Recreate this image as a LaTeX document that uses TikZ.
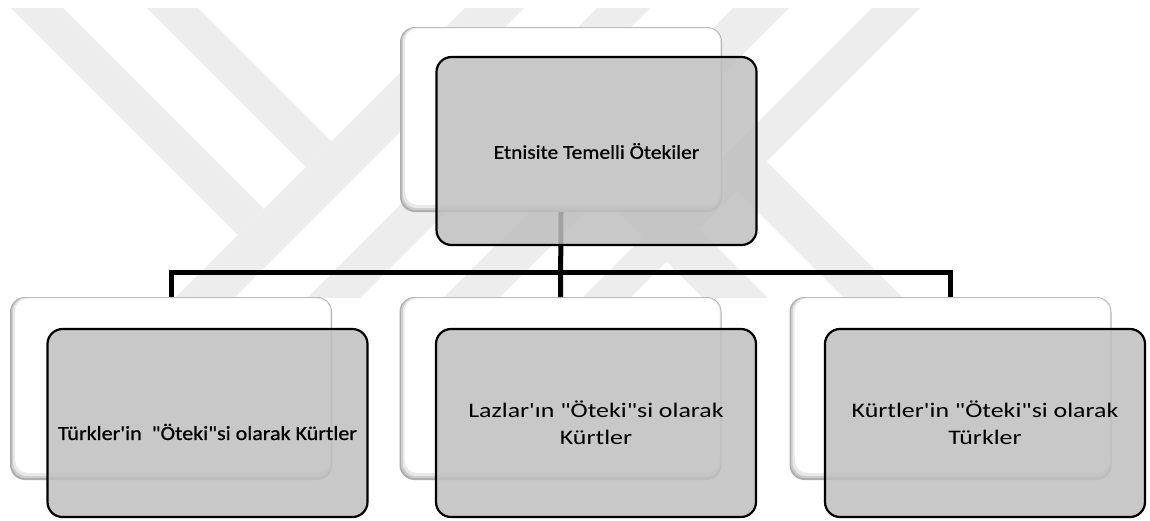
\documentclass[tikz,border=0pt]{standalone}
\usepackage{fontspec}
\newfontfamily\fA{Carlito}[Ligatures=TeXOff,FakeStretch=1.1,FakeBold=0.8]
\newfontfamily\fB{Carlito}[Ligatures=TeXOff,FakeStretch=1.25]
\begin{document}
\begin{tikzpicture}[x=1pt,y=-1pt,
  wm/.style={fill=black!7},
  backbox/.style={rectangle, rounded corners=15pt, minimum width=322pt, minimum height=183pt,
    inner sep=0pt, outer sep=0pt, fill=black!32,
    path picture={
      \fill[black!20, rounded corners=14pt]
        ([shift={(1.5pt,2pt)}]path picture bounding box.south west) rectangle
        ([shift={(-0.7pt,-0.6pt)}]path picture bounding box.north east);
      \fill[black!9, rounded corners=13.5pt]
        ([shift={(3pt,4pt)}]path picture bounding box.south west) rectangle
        ([shift={(-1.2pt,-0.9pt)}]path picture bounding box.north east);
      \fill[white, rounded corners=13pt]
        ([shift={(5pt,7pt)}]path picture bounding box.south west) rectangle
        ([shift={(-1.8pt,-1.4pt)}]path picture bounding box.north east);
    }},
  frontbox/.style={rectangle, rounded corners=15pt, draw=black, line width=2.2pt,
    fill=black!25, fill opacity=0.85, draw opacity=1, text opacity=1,
    minimum width=320pt, minimum height=188pt, inner sep=0pt, outer sep=0pt,
    align=center, text=black},
  txtA/.style={font=\fA\fontsize{20}{24}\selectfont},
  txtB/.style={font=\fB\fontsize{20.7}{27}\selectfont},
  link/.style={draw=black, line width=5pt}
]
\useasboundingbox (0,0) rectangle (1150,520);
\fill[white] (0,0) rectangle (1150,520);

% watermark
\begin{scope}
\clip (0,8) rectangle (1150,297);
\fill[wm] (11,8) -- (63,8) -- (264,209) -- (238,235) -- cycle;
\fill[wm] (147,8) -- (198,8) -- (331.5,141.5) -- (306,167) -- cycle;
\fill[wm] (465,8) -- (524,8) -- (232,300) -- (173,300) -- cycle;
\fill[wm] (597,8) -- (650,8) -- (358,300) -- (305,300) -- cycle;
\fill[wm] (733,8) -- (789,8) -- (497,300) -- (441,300) -- cycle;
\fill[wm] (872,8) -- (920,8) -- (628,300) -- (580,300) -- cycle;
\fill[wm] (573,168) -- (605.5,135.5) -- (770,300) -- (705,300) -- cycle;
\fill[wm] (713,167) -- (742.5,137.5) -- (905,300) -- (846,300) -- cycle;
\end{scope}

% back boxes
\node[backbox, minimum height=185pt] (tb) at (561,119.5) {};
\node[backbox] (b1) at (171,388.5) {};
\node[backbox] (b2) at (560.5,388.5) {};
\node[backbox] (b3) at (950.5,388.5) {};

% connectors
\coordinate (busy) at (0,272);
\draw[link] (tb.south) -- (b2.north);
\draw[link] (b1.north) -- (b1.north |- busy) -- (b3.north |- busy) -- (b3.north);

% front boxes
\node[frontbox, txtA, font=\fA\fontsize{19.5}{24}\selectfont] (tf) at (596.5,151) {Etnisite Temelli Ötekiler};
\node[frontbox, txtA] (f1) at (207.5,423) {\raisebox{-9pt}[\height][\depth]{Türkler'in~~"Öteki"si olarak Kürtler}};
\node[frontbox, txtB] (f2) at (596,423) {Lazlar'ın "Öteki"si olarak\\Kürtler};
\node[frontbox, txtB] (f3) at (985,423) {Kürtler'in "Öteki"si olarak\\Türkler};
\end{tikzpicture}
\end{document}
